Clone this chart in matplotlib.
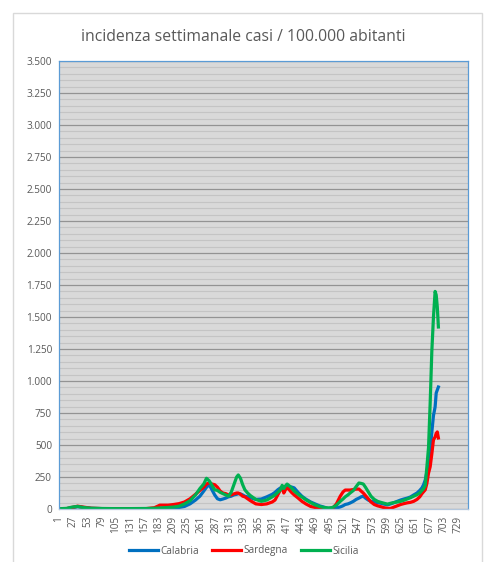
import matplotlib
matplotlib.use("Agg")
import matplotlib.pyplot as plt
from matplotlib.patches import Rectangle
from matplotlib.ticker import FuncFormatter, MultipleLocator

plt.rcParams['font.family'] = ['Open Sans', 'DejaVu Sans']

title = "incidenza settimanale casi / 100.000 abitanti"
series_names = ["Calabria", "Sardegna", "Sicilia"]
series_colors = ["#0070c0", "#ff0000", "#00b050"]

days = [1, 15, 25, 35, 45, 60, 80, 100, 130, 160, 175, 185, 200, 210, 220, 230, 240, 250,
        258, 265, 270, 275, 280, 285, 290, 295, 300, 305, 310, 315, 320, 325, 328, 332,
        336, 340, 345, 350, 360, 370, 380, 390, 395, 400, 405, 408, 411, 414, 417, 420,
        425, 430, 437, 444, 452, 460, 468, 476, 484, 492, 500, 507, 514, 519, 523, 528,
        532, 538, 543, 548, 552, 556, 560, 565, 570, 576, 582, 588, 594, 600, 606, 612,
        618, 624, 630, 636, 642, 648, 654, 659, 663, 666, 669, 672, 675, 678, 681, 684,
        687, 689, 691, 693]

calabria = [1, 3, 10, 18, 12, 5, 3, 2, 2, 2, 3, 4, 6, 8, 12, 20, 40, 70,
            100, 140, 170, 190, 150, 110, 80, 72, 78, 85, 95, 100, 110, 115, 120, 118,
            110, 100, 95, 88, 75, 78, 95, 115, 130, 150, 165, 160, 170, 175, 180, 175,
            172, 165, 130, 100, 75, 55, 40, 25, 15, 5, 3, 8, 16, 25, 35, 40,
            47, 60, 75, 85, 95, 100, 85, 70, 60, 55, 50, 45, 38, 32, 40, 50,
            60, 70, 78, 85, 94, 110, 125, 145, 165, 190, 226, 290, 360, 461, 600, 730,
            797, 906, 930, 953]

sardegna = [1, 3, 12, 22, 15, 6, 3, 2, 2, 3, 10, 30, 30, 35, 42, 55, 80, 115,
            145, 170, 195, 205, 195, 190, 170, 140, 125, 120, 110, 110, 118, 125, 125, 115,
            100, 95, 80, 65, 40, 35, 40, 55, 70, 110, 150, 172, 125, 150, 165, 155,
            130, 110, 86, 60, 38, 20, 12, 8, 4, 2, 5, 40, 100, 133, 148, 148,
            148, 152, 155, 156, 140, 125, 105, 80, 55, 35, 25, 18, 10, 5, 5, 15,
            25, 35, 42, 48, 52, 60, 75, 95, 120, 135, 150, 200, 280, 330, 430, 540,
            563, 590, 602, 555]

sicilia = [2, 5, 15, 20, 12, 6, 4, 3, 3, 4, 6, 8, 12, 15, 22, 40, 65, 110,
           160, 195, 240, 220, 185, 150, 145, 130, 120, 110, 100, 130, 190, 250, 266, 240,
           190, 150, 125, 105, 75, 60, 70, 95, 110, 130, 150, 185, 160, 180, 195, 185,
           165, 140, 115, 94, 70, 50, 32, 20, 12, 8, 12, 30, 60, 78, 95, 110,
           125, 145, 175, 203, 200, 195, 170, 135, 100, 75, 60, 52, 45, 38, 45, 50,
           55, 60, 68, 78, 88, 100, 112, 125, 145, 160, 185, 330, 480, 828, 1230, 1500,
           1700, 1672, 1578, 1422]

x_ticks = list(range(1, 730, 26))
x_max = 747
y_max = 3500

W, H = 487, 562
fig = plt.figure(figsize=(W / 100, H / 100), dpi=100)
fig.patch.set_facecolor("white")
fig.patches.append(Rectangle((13 / W, -0.05), (482 - 13) / W, 1.05 - 13 / H,
                             transform=fig.transFigure, fill=False,
                             edgecolor="#d9d9d9", linewidth=1))

ax = fig.add_axes([59 / W, (H - 509) / H, (468 - 59) / W, (509 - 61) / H])
ax.set_facecolor("#d9d9d9")

for vals, name, col in zip([calabria, sardegna, sicilia], series_names, series_colors):
    ax.plot(days, vals, color=col, linewidth=2.3, label=name, solid_joinstyle="round")

ax.set_xlim(1, x_max)
ax.set_ylim(0, y_max)
ax.yaxis.set_major_locator(MultipleLocator(250))
ax.yaxis.set_minor_locator(MultipleLocator(50))
ax.grid(which="minor", axis="y", color="#c4c4c4", linewidth=0.8)
ax.grid(which="major", axis="y", color="#939393", linewidth=0.9)
ax.set_axisbelow(True)

ax.yaxis.set_major_formatter(FuncFormatter(lambda v, p: f"{int(v):,}".replace(",", ".")))
ax.set_xticks(x_ticks)
ax.set_xticklabels([str(t) for t in x_ticks], rotation=90)
ax.tick_params(axis="both", length=0, labelsize=7.2, colors="#595959", pad=5)
ax.tick_params(axis="y", which="minor", length=0)

for s in ["left", "right", "top"]:
    ax.spines[s].set_color("#5b9bd5")
    ax.spines[s].set_linewidth(0.9)
ax.spines["bottom"].set_color("#b4c7dc")
ax.spines["bottom"].set_linewidth(0.9)

fig.text(0.5, 1 - 37 / H, title, ha="center", va="center", fontsize=11.3, color="#595959")

leg = fig.legend(loc="center", bbox_to_anchor=(0.5, 1 - 551 / H), ncol=3, frameon=False,
                 fontsize=7.2, handlelength=2.9, handletextpad=0.25, columnspacing=1.3)
for t in leg.get_texts():
    t.set_color("#595959")

fig.savefig("out.png", dpi=100)
